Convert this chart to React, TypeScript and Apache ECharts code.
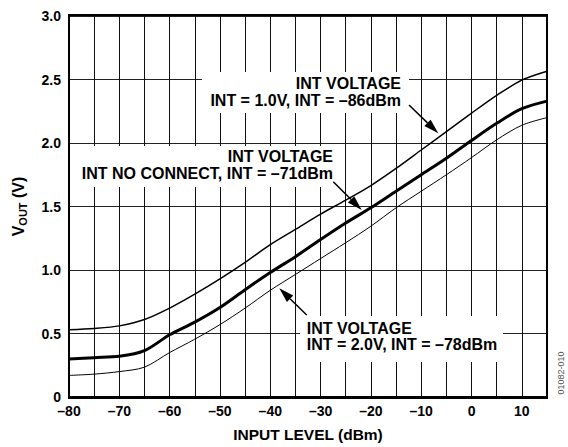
import React, { useEffect, useRef } from "react";
import * as echarts from "echarts";

const inputLevel = [-80, -75, -70, -65, -60, -55, -50, -45, -40, -35, -30, -25, -20, -15, -10, -5, 0, 5, 10, 15];
const vIntNoConnect = [0.30, 0.31, 0.32, 0.365, 0.49, 0.59, 0.705, 0.845, 0.98, 1.105, 1.24, 1.37, 1.49, 1.62, 1.75, 1.88, 2.02, 2.155, 2.27, 2.33];
const vInt1V = [0.53, 0.54, 0.56, 0.61, 0.70, 0.81, 0.93, 1.06, 1.20, 1.32, 1.44, 1.55, 1.665, 1.80, 1.945, 2.09, 2.235, 2.375, 2.495, 2.565];
const vInt2V = [0.17, 0.18, 0.20, 0.235, 0.35, 0.455, 0.57, 0.70, 0.84, 0.965, 1.09, 1.215, 1.345, 1.49, 1.62, 1.75, 1.885, 2.025, 2.14, 2.20];

const xTickLabels = ["–80", "–70", "–60", "–50", "–40", "–30", "–20", "–10", "0", "10"];
const yTickLabels = ["0", "0.5", "1.0", "1.5", "2.0", "2.5", "3.0"];

const FONT = "'Liberation Sans', Arial, Helvetica, sans-serif";

function arrow(x1: number, y1: number, x2: number, y2: number) {
  const dx = x2 - x1, dy = y2 - y1;
  const len = Math.sqrt(dx * dx + dy * dy);
  const ux = dx / len, uy = dy / len;
  const hl = 15, hw = 4.5;
  const bx = x2 - ux * hl, by = y2 - uy * hl;
  return [
    { type: "line", z: 20, shape: { x1, y1, x2: bx, y2: by }, style: { stroke: "#000", lineWidth: 1.5 } },
    {
      type: "polygon", z: 20,
      shape: { points: [[x2, y2], [bx - uy * hw, by + ux * hw], [bx + uy * hw, by - ux * hw]] },
      style: { fill: "#000" },
    },
  ];
}

function pairs(ys: number[]) {
  return inputLevel.map((x, i) => [x, ys[i]]);
}

export default function App() {
  const ref = useRef<HTMLDivElement>(null);
  useEffect(() => {
    document.body.style.margin = "0";
    const chart = echarts.init(ref.current!, undefined, { renderer: "svg" });
    const textStyle = { fontFamily: FONT, fontWeight: "bold", fontSize: 16, fill: "#000" };
    chart.setOption({
      animation: false,
      backgroundColor: "#fff",
      grid: { left: 69, right: 21, top: 16, bottom: 49, show: false },
      xAxis: {
        type: "value", min: -80, max: 15, interval: 5,
        axisLine: { show: true, onZero: false, lineStyle: { color: "#000", width: 2 } },
        axisTick: { show: false },
        splitLine: { show: true, lineStyle: { color: "#111", width: 1 } },
        axisLabel: {
          margin: 7, color: "#000", fontFamily: FONT, fontWeight: "bold", fontSize: 14,
          formatter: (v: number) => {
            const idx = (v + 80) / 10;
            return Number.isInteger(idx) && idx < xTickLabels.length ? xTickLabels[idx] : "";
          },
        },
        name: "INPUT LEVEL (dBm)", nameLocation: "middle", nameGap: 29,
        nameTextStyle: { color: "#000", fontFamily: FONT, fontWeight: "bold", fontSize: 15.5 },
      },
      yAxis: {
        type: "value", min: 0, max: 3, interval: 0.5,
        axisLine: { show: true, onZero: false, lineStyle: { color: "#000", width: 2 } },
        axisTick: { show: false },
        splitLine: { show: true, lineStyle: { color: "#222", width: 1.2 } },
        axisLabel: {
          margin: 8, color: "#000", fontFamily: FONT, fontWeight: "bold", fontSize: 14,
          formatter: (v: number) => yTickLabels[Math.round(v / 0.5)] ?? "",
        },
        name: "{a|V}{s|OUT}{a| (V)}", nameLocation: "middle", nameGap: 41, nameRotate: 90,
        nameTextStyle: {
          color: "#000", fontFamily: FONT, fontWeight: "bold",
          rich: {
            a: { fontSize: 16, fontFamily: FONT, fontWeight: "bold", color: "#000", lineHeight: 20 },
            s: { fontSize: 11, fontFamily: FONT, fontWeight: "bold", color: "#000", lineHeight: 11, verticalAlign: "bottom" },
          },
        },
      },
      graphic: [
        { type: "rect", z: 10, shape: { x: 69, y: 15, width: 478, height: 383 }, style: { fill: "none", stroke: "#000", lineWidth: 2 } },
        { type: "rect", z: 15, shape: { x: 202, y: 72, width: 207, height: 41 }, style: { fill: "#fff" } },
        { type: "text", z: 16, x: 401, y: 92, style: { ...textStyle, text: "INT VOLTAGE\nINT = 1.0V, INT = –86dBm", align: "right", verticalAlign: "middle", lineHeight: 17 } },
        { type: "rect", z: 15, shape: { x: 73, y: 146, width: 265, height: 41 }, style: { fill: "#fff" } },
        { type: "text", z: 16, x: 333, y: 165, style: { ...textStyle, text: "INT VOLTAGE\nINT NO CONNECT, INT = –71dBm", align: "right", verticalAlign: "middle", lineHeight: 16.5 } },
        { type: "rect", z: 15, shape: { x: 300, y: 316, width: 203, height: 46 }, style: { fill: "#fff" } },
        { type: "text", z: 16, x: 306.7, y: 336.5, style: { ...textStyle, text: "INT VOLTAGE\nINT = 2.0V, INT = –78dBm", align: "left", verticalAlign: "middle", lineHeight: 16 } },
        ...arrow(409, 105, 438.3, 133.3),
        ...arrow(333.3, 181.7, 361.7, 210),
        ...arrow(306.7, 315, 279.3, 288.3),
        {
          type: "text", z: 16, x: 561, y: 373, rotation: Math.PI / 2,
          style: { text: "01082-010", fontFamily: FONT, fontSize: 9, fill: "#555", align: "center", verticalAlign: "middle" },
        },
      ],
      series: [
        { name: "INT = 1.0V", type: "line", data: pairs(vInt1V), showSymbol: false, smooth: 0.3, lineStyle: { color: "#000", width: 1.5 } },
        { name: "INT NO CONNECT", type: "line", data: pairs(vIntNoConnect), showSymbol: false, smooth: 0.3, lineStyle: { color: "#000", width: 3 } },
        { name: "INT = 2.0V", type: "line", data: pairs(vInt2V), showSymbol: false, smooth: 0.3, lineStyle: { color: "#000", width: 1 } },
      ],
    });
    return () => chart.dispose();
  }, []);
  return <div ref={ref} style={{ width: 568, height: 447 }} />;
}
